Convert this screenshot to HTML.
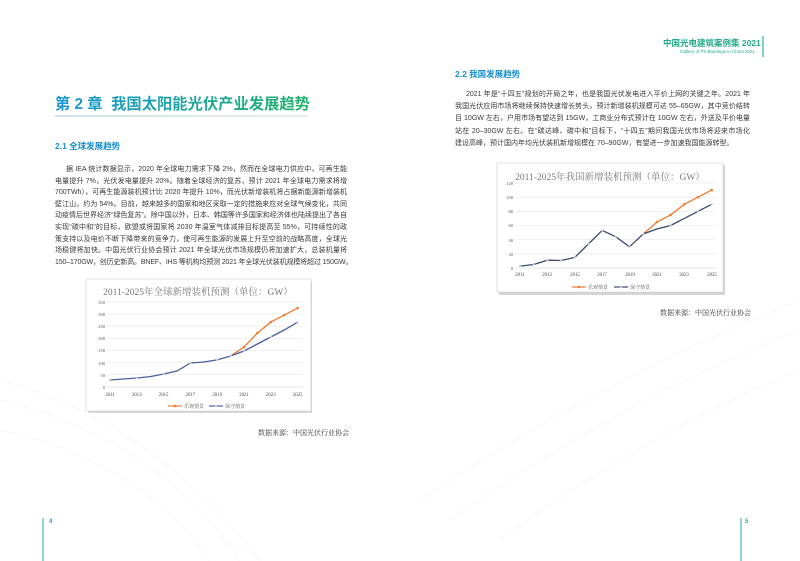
<!DOCTYPE html>
<html><head><meta charset="utf-8"><style>
body{margin:0;width:800px;height:561px;background:#fff;position:relative;overflow:hidden;font-family:"Liberation Sans","Noto Sans CJK SC",sans-serif;color:#333}
.a{position:absolute;white-space:nowrap}
.p{position:absolute;font-size:7px;color:#3a3a3a}
.p span{display:block;overflow:hidden;text-align:justify;text-align-last:justify;white-space:normal;word-break:break-all}
.p span.l{text-align-last:left;white-space:nowrap;overflow:visible}
.h{font-weight:bold;color:#1a8fd0;font-size:8.5px}
.src{font-family:"Noto Serif CJK SC",serif;font-size:7px;color:#333}
svg text{font-family:"Liberation Serif","Noto Serif CJK SC",serif}
</style></head><body>
<svg class="a" style="left:0;top:0" width="800" height="561">
<g fill="none" stroke="#eef3f7" stroke-width="0.6">
<path d="M0 380 Q150 420 260 561"/><path d="M0 400 Q160 440 240 561"/><path d="M0 430 Q140 460 210 561"/>
<path d="M420 500 Q600 380 800 300"/><path d="M450 520 Q620 400 800 330"/><path d="M500 540 Q650 430 800 370"/>
</g>
<line x1="763" y1="36" x2="763" y2="57" stroke="#2bb5a0" stroke-width="1.2"/>
<line x1="43" y1="518" x2="43" y2="561" stroke="#2a9fc0" stroke-width="1"/>
<line x1="741" y1="518" x2="741" y2="561" stroke="#2a9fc0" stroke-width="1"/>
<defs><linearGradient id="ul" x1="0" x2="1"><stop offset="0" stop-color="#cfe2ec"/><stop offset="1" stop-color="#e4eef2"/></linearGradient></defs>
<rect x="55" y="115" width="253" height="2" fill="url(#ul)"/>
</svg>
<div class="a" style="left:663px;top:37px;font-size:8.5px;font-weight:bold;color:#22a98a">中国光电建筑案例集 2021</div>
<div class="a" style="left:680px;top:49px;font-size:4.5px;color:#22a98a">Gallery of PV-Buildings in China 2021</div>
<div class="a" style="left:55px;top:92px;font-size:15.3px;font-weight:bold;color:#1e9fd0;background:linear-gradient(90deg,#1a95d8,#22b36a);-webkit-background-clip:text;-webkit-text-fill-color:transparent">第 2 章&nbsp; 我国太阳能光伏产业发展趋势</div>
<div class="a h" style="left:55px;top:140px">2.1 全球发展趋势</div>
<div class="a h" style="left:455px;top:68px">2.2 我国发展趋势</div>
<div class="p" style="left:55px;top:164px;width:292px;">
<span style="height:11.6px;line-height:11.6px;text-indent:11px">据 IEA 统计数据显示，2020 年全球电力需求下降 2%，然而在全球电力供应中，可再生能源发</span>
<span style="height:11.6px;line-height:11.6px">电量提升 7%，光伏发电量提升 20%。随着全球经济的复苏，预计 2021 年全球电力需求将增加 3%（约</span>
<span style="height:11.6px;line-height:11.6px">700TWh），可再生能源装机预计比 2020 年提升 10%，而光伏新增装机将占据新能源新增装机半</span>
<span style="height:11.6px;line-height:11.6px">壁江山，约为 54%。目前，越来越多的国家和地区采取一定的措施来应对全球气候变化，共同推</span>
<span style="height:11.6px;line-height:11.6px">动疫情后世界经济“绿色复苏”。除中国以外，日本、韩国等许多国家和经济体也陆续提出了各自</span>
<span style="height:11.6px;line-height:11.6px">实现“碳中和”的目标，欧盟或将国家将 2030 年温室气体减排目标提高至 55%，可持续性的政</span>
<span style="height:11.6px;line-height:11.6px">策支持以及电价不断下降带来的竞争力，使可再生能源的发展上升至空前的战略高度，全球光伏市</span>
<span style="height:11.6px;line-height:11.6px">场稳健将加快。中国光伏行业协会预计 2021 年全球光伏市场规模仍将加速扩大，总装机量将达到</span>
<span class="l" style="height:11.6px;line-height:11.6px;letter-spacing:-0.15px">150–170GW，创历史新高。BNEF、IHS 等机构均预测 2021 年全球光伏装机规模将超过 150GW。</span>
</div>
<div class="p" style="left:455px;top:89px;width:295px;">
<span style="height:12.2px;line-height:12.2px;text-indent:11px">2021 年是“十四五”规划的开局之年，也是我国光伏发电进入平价上网的关键之年。2021 年</span>
<span style="height:12.2px;line-height:12.2px">我国光伏应用市场将继续保持快速增长势头，预计新增装机规模可达 55–65GW，其中竞价结转项</span>
<span style="height:12.2px;line-height:12.2px">目 10GW 左右，户用市场有望达到 15GW，工商业分布式预计在 10GW 左右，外送及平价电量电</span>
<span style="height:12.2px;line-height:12.2px">站在 20–30GW 左右。在“碳达峰、碳中和”目标下，“十四五”期间我国光伏市场将迎来市场化</span>
<span class="l" style="height:12.2px;line-height:12.2px">建设高峰，预计国内年均光伏装机新增规模在 70–90GW，有望进一步加速我国能源转型。</span>
</div>

<!-- left chart -->
<svg class="a" style="left:84px;top:277px" width="232" height="140">
<rect x="4" y="4" width="224" height="132" fill="#bbb" opacity="0.6"/>
<rect x="2" y="2" width="225" height="132" fill="#fff" stroke="#d0d0d0" stroke-width="0.6"/>
<text x="114" y="18" font-size="9.5" fill="#777" text-anchor="middle">2011-2025年全球新增装机预测（单位：GW）</text>
<g stroke="#e6e6e6" stroke-width="0.6">
<line x1="23" x2="219" y1="25" y2="25"/><line x1="23" x2="219" y1="37.1" y2="37.1"/><line x1="23" x2="219" y1="49.2" y2="49.2"/><line x1="23" x2="219" y1="61.3" y2="61.3"/><line x1="23" x2="219" y1="73.4" y2="73.4"/><line x1="23" x2="219" y1="85.5" y2="85.5"/><line x1="23" x2="219" y1="97.6" y2="97.6"/>
</g>
<line x1="23" x2="219" y1="110" y2="110" stroke="#ccc" stroke-width="0.6"/>
<g font-size="4.5" fill="#555" text-anchor="end">
<text x="21" y="27">350</text><text x="21" y="39">300</text><text x="21" y="51">250</text><text x="21" y="63">200</text><text x="21" y="75">150</text><text x="21" y="88">100</text><text x="21" y="100">50</text><text x="21" y="112">0</text></g>
<g font-size="4.8" fill="#444" text-anchor="middle">
<text x="26" y="119">2011</text><text x="52.8" y="119">2013</text><text x="79.6" y="119">2015</text><text x="106.4" y="119">2017</text><text x="133.2" y="119">2019</text><text x="160" y="119">2021</text><text x="186.8" y="119">2023</text><text x="213.6" y="119">2025</text></g>
<polyline fill="none" stroke="#ed7d31" stroke-width="1.3" points="146.6,79 160,70.1 173.4,56 186.8,45.1 200.2,38.1 213.6,31.1"/>
<g fill="#ed7d31"><circle cx="160" cy="70.1" r="1.3"/><circle cx="173.4" cy="56" r="1.3"/><circle cx="186.8" cy="45.1" r="1.3"/><circle cx="200.2" cy="38.1" r="1.3"/><circle cx="213.6" cy="31.1" r="1.3"/></g>
<polyline fill="none" stroke="#4a5f9a" stroke-width="1.3" points="26,103 39.4,102 52.8,101 66.2,99.6 79.6,97 93,94 106.4,86 119.8,85 133.2,82.9 146.6,79 160,74 173.4,67 186.8,60 200.2,53 213.6,45.2"/>
<g fill="#c9c9d4"><circle cx="26" cy="103" r="1.2"/><circle cx="52.8" cy="101" r="1.2"/><circle cx="79.6" cy="97" r="1.2"/><circle cx="106.4" cy="86" r="1.2"/><circle cx="133.2" cy="82.9" r="1.2"/><circle cx="146.6" cy="79" r="1.2"/><circle cx="160" cy="74" r="1.2"/><circle cx="186.8" cy="60" r="1.2"/><circle cx="213.6" cy="45.2" r="1.2"/></g>
<line x1="84" x2="98" y1="129" y2="129" stroke="#ed7d31" stroke-width="1.2"/><circle cx="91" cy="129" r="1.3" fill="#ed7d31"/>
<text x="100" y="131" font-size="5" fill="#555">乐观情景</text>
<line x1="125" x2="139" y1="129" y2="129" stroke="#4a5f9a" stroke-width="1.2"/><circle cx="132" cy="129" r="1.2" fill="#c9c9d4"/>
<text x="141" y="131" font-size="5" fill="#555">保守情景</text>
</svg>
<div class="a src" style="left:258px;top:428px">数据来源：中国光伏行业协会</div>

<!-- right chart -->
<svg class="a" style="left:494px;top:160px" width="234" height="137">
<rect x="5" y="5" width="226" height="130" fill="#bbb" opacity="0.6"/>
<rect x="3" y="3" width="226" height="129" fill="#fff" stroke="#d0d0d0" stroke-width="0.6"/>
<text x="116" y="20" font-size="9.5" fill="#777" text-anchor="middle">2011-2025年我国新增装机预测（单位：GW）</text>
<g stroke="#e6e6e6" stroke-width="0.6">
<line x1="22" x2="222" y1="23" y2="23"/><line x1="22" x2="222" y1="37.2" y2="37.2"/><line x1="22" x2="222" y1="51.3" y2="51.3"/><line x1="22" x2="222" y1="65.5" y2="65.5"/><line x1="22" x2="222" y1="79.7" y2="79.7"/><line x1="22" x2="222" y1="93.8" y2="93.8"/></g>
<line x1="22" x2="222" y1="108" y2="108" stroke="#ccc" stroke-width="0.6"/>
<g font-size="4.5" fill="#555" text-anchor="end">
<text x="19" y="25">120</text><text x="19" y="39">100</text><text x="19" y="53">80</text><text x="19" y="67">60</text><text x="19" y="82">40</text><text x="19" y="96">20</text><text x="19" y="110">0</text></g>
<g font-size="4.8" fill="#444" text-anchor="middle">
<text x="26" y="116">2011</text><text x="53" y="116">2013</text><text x="81" y="116">2015</text><text x="108" y="116">2017</text><text x="136" y="116">2019</text><text x="163" y="116">2021</text><text x="190" y="116">2023</text><text x="218" y="116">2025</text></g>
<polyline fill="none" stroke="#ed7d31" stroke-width="1.3" points="149.2,74 162.9,62 176.6,54.9 190.3,44.3 204,37.2 217.7,30.1"/>
<g fill="#ed7d31"><circle cx="162.9" cy="62" r="1.3"/><circle cx="176.6" cy="54.9" r="1.3"/><circle cx="190.3" cy="44.3" r="1.3"/><circle cx="204" cy="37.2" r="1.3"/><circle cx="217.7" cy="30.1" r="1.3"/></g>
<polyline fill="none" stroke="#3a4a6e" stroke-width="1.3" points="26,106.1 39.7,104.5 53.4,100.2 67.1,100.5 80.8,97.4 94.5,83.9 108.2,70.4 121.9,76.8 135.5,86.8 149.2,74 162.9,69 176.6,65.5 190.3,58.4 204,51.3 217.7,44.3"/>
<g fill="#c9c9d4"><circle cx="26" cy="106.1" r="1.2"/><circle cx="39.7" cy="104.5" r="1.2"/><circle cx="53.4" cy="100.2" r="1.2"/><circle cx="67.1" cy="100.5" r="1.2"/><circle cx="80.8" cy="97.4" r="1.2"/><circle cx="94.5" cy="83.9" r="1.2"/><circle cx="108.2" cy="70.4" r="1.2"/><circle cx="121.9" cy="76.8" r="1.2"/><circle cx="135.5" cy="86.8" r="1.2"/><circle cx="149.2" cy="74" r="1.2"/><circle cx="176.6" cy="65.5" r="1.2"/><circle cx="204" cy="51.3" r="1.2"/><circle cx="217.7" cy="44.3" r="1.2"/></g>
<line x1="78" x2="92" y1="127" y2="127" stroke="#ed7d31" stroke-width="1.2"/><circle cx="85" cy="127" r="1.3" fill="#ed7d31"/>
<text x="94" y="129" font-size="5" fill="#555">乐观情景</text>
<line x1="120" x2="134" y1="127" y2="127" stroke="#3a4a6e" stroke-width="1.2"/><circle cx="127" cy="127" r="1.2" fill="#c9c9d4"/>
<text x="136" y="129" font-size="5" fill="#555">保守情景</text>
</svg>
<div class="a src" style="left:660px;top:308px">数据来源：中国光伏行业协会</div>

<div class="a" style="left:49px;top:519px;font-size:6px;color:#2a9fd0;font-weight:bold">4</div>
<div class="a" style="left:745px;top:519px;font-size:6px;color:#2bb573;font-weight:bold">5</div>
</body></html>
